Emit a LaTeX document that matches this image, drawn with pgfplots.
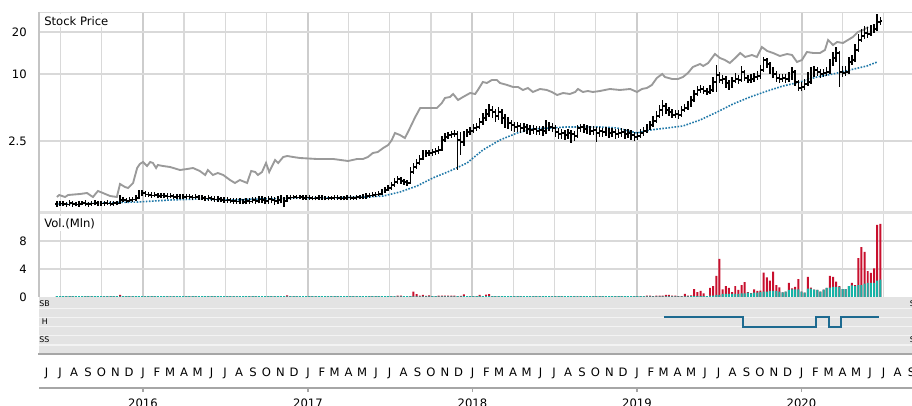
\documentclass[border=0pt]{standalone}
\usepackage{fontspec}
\setmainfont{DejaVu Sans}
\usepackage{pgfplots}
\usepackage{pgfplotstable}
\pgfplotsset{compat=1.18}

\definecolor{gridc}{HTML}{D9D9D9}
\definecolor{gridy}{HTML}{CDCDCD}
\definecolor{bordc}{HTML}{C4C4C4}
\definecolor{sepc}{HTML}{E0E0E0}
\definecolor{benchc}{HTML}{9A9A9A}
\definecolor{mac}{HTML}{1F78A8}
\definecolor{volred}{HTML}{C8102E}
\definecolor{volteal}{HTML}{17B3A6}
\definecolor{ratbg}{HTML}{E3E3E3}
\definecolor{ratline}{HTML}{F3F3F3}
\definecolor{ratc}{HTML}{1D6A90}
\definecolor{axc}{HTML}{A6A6A6}

\newcommand\lab{\fontsize{8.7}{10}\selectfont}
\newcommand\sml{\fontsize{5.9}{6.7}\selectfont}
\pgfdeclareplotmark{nomark}{}

% weekly bars (price panel units), first week ~ 22 Jun 2015
\pgfplotstableread[row sep=\\]{
o h l c\\
8 11 5 8\\ 8 10.5 6 8.5\\ 8.5 11 5.5 8\\ 8 10 5 7.5\\ 7.5 11.5 6 9\\
9 11 5 8\\ 8 10 5.5 7.5\\ 7.5 10.5 5 8\\ 8 11 6.5 9\\ 9 11.5 5.5 8\\
8 10 5 8\\ 8 11 6 8.5\\ 8.5 11.5 6.5 9\\ 9 11 5.5 8\\ 8 10.5 6 8.5\\
8.5 11 6 9\\ 9 11.5 6.5 8.5\\ 8.5 10.5 5.5 8\\ 8 11 6 9\\ 9 11 6.5 8.5\\
8.5 17 8 12\\ 12 14.5 9.5 12\\ 12 14 9 11\\ 11 14.5 9.5 12\\ 12 15 10 12.5\\
12.5 16.5 11 14\\ 14 22 13 18\\ 18 22 16 19\\ 19 21 15 17.5\\ 17.5 20 14.5 17\\
17 19.5 14 16.5\\ 16.5 19.5 14.5 17\\ 17 19 13.5 16\\ 16 19 14 16.5\\ 16.5 18.5 13.5 16\\
16 18.5 13 15.5\\ 15.5 18.5 13.5 16\\ 16 18 13 15\\ 15 18 13 15.5\\ 15.5 17.5 12.5 15\\
15 17.5 12.5 15\\ 15 18 13 15.5\\ 15.5 17.5 12.5 15\\ 15 17 12 14.5\\ 14.5 17.5 12.5 15\\
15 17 12 14.5\\ 14.5 17 11.5 14\\ 14 16 11 13.5\\ 13.5 16.5 11 14\\ 14 16 10.5 13\\
13 15.5 10 12.5\\ 12.5 15.5 10 13\\ 13 15 9.5 12\\ 12 14.5 9 11.5\\ 11.5 14.5 9 12\\
12 14 8.5 11\\ 11 13.5 8 11\\ 11 13.5 8 10.5\\ 10.5 13.5 8 11\\ 11 13 7.5 10\\
10 13.5 7.5 11\\ 11 13.5 8 10.5\\ 10.5 15 8.5 12\\ 12 14.5 8 11\\ 11 16 8.5 12.5\\
12.5 15.5 9 12\\ 12 15 7.5 11\\ 11 16 8 13\\ 13 16 8.5 12\\ 12 15 7 11\\
11 15.5 8 12\\ 12 16.5 8.5 13\\ 13 15 5 11\\ 11 16.5 10 14\\ 14 17 12 14.5\\
14.5 17 12.5 15\\ 15 17 12.5 14.5\\ 14.5 17 12.5 15\\ 15 16.5 12 14\\ 14 16.5 12 14.5\\
14.5 16.5 12 14\\ 14 16 11.5 13.5\\ 13.5 16 11.5 14\\ 14 16.5 12 14.5\\ 14.5 16.5 12 14\\
14 16 11.5 13.5\\ 13.5 16 11.5 14\\ 14 16 12 14\\ 14 16.5 12 14.5\\ 14.5 16.5 12 14\\
14 16 11.5 13.5\\ 13.5 16 11.5 14\\ 14 16.5 12 14.5\\ 14.5 16.5 12 14\\ 14 16 12 14\\
14 17 12 15\\ 15 17 12.5 14.5\\ 14.5 17.5 12.5 15\\ 15 18.5 13 16\\ 16 19 14 16.5\\
16.5 19.5 14.5 17\\ 17 20 15 17.5\\ 17.5 21 15.5 18\\ 18 23 17 20\\ 20 25 19 22\\
22 27 21 24\\ 24 30 22 27\\ 27 34 25 30\\ 30 36 28 33\\ 33 35 28 31\\
31 33 27 30\\ 30 32 26 29\\ 29 45 28 40\\ 40 49 38 45\\ 45 53 43 49\\
49 57 47 53\\ 53 62 52 58\\ 58 62 55 59\\ 59 62 56 59\\ 59 63 56 60\\
60 64 57 61\\ 61 66 58 62\\ 62 76 61 72\\ 72 79 70 75\\ 75 80 73 77\\
77 81 74 78\\ 78 82 75 78\\ 78 81 42 72\\ 72 80 57 70\\ 70 81 66 77\\
77 83 75 80\\ 80 85 77 81\\ 81 88 79 84\\ 84 89 81 85\\ 85 94 83 90\\
90 99 87 94\\ 94 103 91 98\\ 98 108 95 102\\ 102 106 94 100\\ 100 103 90 96\\
96 105 92 100\\ 100 103 88 94\\ 94 98 84 92\\ 92 95 83 89\\ 89 92 81 87\\
87 90 80 85\\ 85 90 80 86\\ 86 89 79 84\\ 84 89 80 85\\ 85 88 78 83\\
83 87 77 82\\ 82 87 78 83\\ 83 86 77 81\\ 81 86 77 82\\ 82 86 76 81\\
81 92 78 87\\ 87 90 81 85\\ 85 89 80 84\\ 84 87 75 80\\ 80 84 73 78\\
78 83 73 79\\ 79 82 72 77\\ 77 83 73 79\\ 79 82 69 78\\ 78 81 71 76\\
76 87 74 84\\ 84 88 80 85\\ 85 88 79 83\\ 83 87 78 82\\ 82 86 77 81\\
81 86 77 82\\ 82 85 70 79\\ 79 85 75 81\\ 81 84 75 80\\ 80 85 76 81\\
81 84 74 79\\ 79 84 75 80\\ 80 83 73 78\\ 78 83 74 79\\ 79 84 75 80\\
80 83 73 78\\ 78 83 74 79\\ 79 82 72 77\\ 77 80 71 75\\ 75 80 72 76\\
76 83 74 79\\ 79 85 76 81\\ 81 88 79 84\\ 84 91 82 87\\ 87 96 85 91\\
91 101 89 96\\ 96 107 94 102\\ 102 112 96 106\\ 106 109 98 102\\ 102 105 96 100\\
100 103 94 97\\ 97 102 94 98\\ 98 102 93 97\\ 97 106 95 102\\ 102 108 100 104\\
104 111 102 107\\ 107 116 105 112\\ 112 122 110 118\\ 118 126 116 122\\ 122 127 119 123\\
123 126 118 121\\ 121 124 117 120\\ 120 127 118 122\\ 122 135 120 130\\ 130 147 120 137\\
137 140 129 132\\ 132 137 128 133\\ 133 136 124 129\\ 129 132 122 126\\ 126 135 124 131\\
131 139 129 133\\ 133 137 128 132\\ 132 146 130 140\\ 140 142 131 134\\ 134 137 129 132\\
132 138 129 133\\ 133 139 130 135\\ 135 141 132 136\\ 136 147 133 142\\ 142 155 140 152\\
152 154 144 148\\ 148 150 138 142\\ 142 145 134 138\\ 138 141 130 134\\ 134 138 129 133\\
133 138 130 134\\ 134 138 129 133\\ 133 140 130 135\\ 135 145 132 140\\ 140 142 126 130\\
130 132 121 124\\ 124 130 121 125\\ 125 133 122 128\\ 128 140 126 130\\ 130 145 128 139\\
139 146 135 142\\ 142 145 136 140\\ 140 143 134 138\\ 138 143 135 139\\ 139 145 136 140\\
140 153 138 148\\ 148 160 146 154\\ 154 165 150 159\\ 159 161 125 140\\ 140 146 135 139\\
139 146 136 140\\ 140 155 138 150\\ 150 157 147 152\\ 152 168 150 162\\ 162 178 160 172\\
172 183 170 176\\ 176 186 173 179\\ 179 185 174 178\\ 178 187 176 182\\ 182 188 179 183\\
183 198 181 190\\ 190 195 187 191\\
}\ohlc

% weekly volume, millions: total and teal part
\pgfplotstableread[row sep=\\]{
t v\\
0.12 0.12\\ 0.12 0.12\\ 0.12 0.12\\ 0.12 0.12\\ 0.12 0.12\\ 0.12 0.12\\ 0.12 0.12\\ 0.12 0.12\\ 0.12 0.12\\ 0.12 0.12\\
0.12 0.12\\ 0.12 0.12\\ 0.12 0.12\\ 0.12 0.12\\ 0.12 0.12\\ 0.12 0.12\\ 0.12 0.12\\ 0.12 0.12\\ 0.12 0.12\\ 0.12 0.12\\
0.30 0.08\\ 0.12 0.12\\ 0.12 0.12\\ 0.12 0.12\\ 0.12 0.12\\ 0.12 0.12\\ 0.12 0.12\\ 0.12 0.12\\ 0.12 0.12\\ 0.12 0.12\\
0.12 0.12\\ 0.12 0.12\\ 0.12 0.12\\ 0.12 0.12\\ 0.12 0.12\\ 0.12 0.12\\ 0.12 0.12\\ 0.12 0.12\\ 0.12 0.12\\ 0.12 0.12\\
0.12 0.12\\ 0.12 0.12\\ 0.12 0.12\\ 0.12 0.12\\ 0.12 0.12\\ 0.12 0.12\\ 0.12 0.12\\ 0.12 0.12\\ 0.12 0.12\\ 0.12 0.12\\
0.12 0.12\\ 0.12 0.12\\ 0.12 0.12\\ 0.12 0.12\\ 0.12 0.12\\ 0.12 0.12\\ 0.12 0.12\\ 0.12 0.12\\ 0.12 0.12\\ 0.12 0.12\\
0.12 0.12\\ 0.12 0.12\\ 0.12 0.12\\ 0.12 0.12\\ 0.12 0.12\\ 0.12 0.12\\ 0.12 0.12\\ 0.12 0.12\\ 0.12 0.12\\ 0.12 0.12\\
0.12 0.12\\ 0.12 0.12\\ 0.12 0.12\\ 0.22 0.08\\ 0.12 0.12\\ 0.12 0.12\\ 0.12 0.12\\ 0.12 0.12\\ 0.12 0.12\\ 0.12 0.12\\
0.12 0.12\\ 0.12 0.12\\ 0.12 0.12\\ 0.12 0.12\\ 0.12 0.12\\ 0.12 0.12\\ 0.12 0.12\\ 0.12 0.12\\ 0.12 0.12\\ 0.12 0.12\\
0.12 0.12\\ 0.12 0.12\\ 0.12 0.12\\ 0.12 0.12\\ 0.12 0.12\\ 0.12 0.12\\ 0.12 0.12\\ 0.12 0.12\\ 0.12 0.12\\ 0.12 0.12\\
0.12 0.12\\ 0.12 0.12\\ 0.12 0.12\\ 0.12 0.12\\ 0.12 0.12\\ 0.12 0.12\\ 0.12 0.12\\ 0.12 0.12\\ 0.18 0.08\\ 0.18 0.08\\
0.12 0.12\\ 0.12 0.12\\ 0.12 0.12\\ 0.76 0.08\\ 0.40 0.08\\ 0.18 0.08\\ 0.30 0.08\\ 0.15 0.08\\ 0.22 0.08\\ 0.12 0.12\\
0.12 0.12\\ 0.18 0.08\\ 0.18 0.08\\ 0.20 0.08\\ 0.18 0.08\\ 0.20 0.08\\ 0.18 0.08\\ 0.12 0.12\\ 0.15 0.08\\ 0.38 0.14\\
0.14 0.14\\ 0.12 0.12\\ 0.12 0.12\\ 0.14 0.14\\ 0.30 0.14\\ 0.14 0.14\\ 0.35 0.14\\ 0.40 0.14\\ 0.14 0.14\\ 0.14 0.14\\
0.12 0.12\\ 0.14 0.14\\ 0.14 0.14\\ 0.12 0.12\\ 0.12 0.12\\ 0.12 0.12\\ 0.12 0.12\\ 0.12 0.12\\ 0.12 0.12\\ 0.12 0.12\\
0.12 0.12\\ 0.14 0.14\\ 0.12 0.12\\ 0.12 0.12\\ 0.14 0.14\\ 0.12 0.12\\ 0.12 0.12\\ 0.12 0.12\\ 0.12 0.12\\ 0.14 0.14\\
0.12 0.12\\ 0.14 0.14\\ 0.14 0.14\\ 0.14 0.14\\ 0.14 0.14\\ 0.14 0.14\\ 0.14 0.14\\ 0.12 0.12\\ 0.12 0.12\\ 0.12 0.12\\
0.12 0.12\\ 0.12 0.12\\ 0.14 0.14\\ 0.12 0.12\\ 0.12 0.12\\ 0.12 0.12\\ 0.12 0.12\\ 0.12 0.12\\ 0.12 0.12\\ 0.12 0.12\\
0.12 0.12\\ 0.12 0.12\\ 0.12 0.12\\ 0.12 0.12\\ 0.12 0.12\\ 0.12 0.12\\ 0.12 0.12\\ 0.18 0.08\\ 0.18 0.08\\ 0.12 0.08\\
0.18 0.08\\ 0.18 0.08\\ 0.18 0.08\\ 0.29 0.08\\ 0.29 0.08\\ 0.18 0.08\\ 0.18 0.08\\ 0.14 0.08\\ 0.12 0.08\\ 0.43 0.08\\
0.18 0.08\\ 0.22 0.14\\ 1.14 0.14\\ 0.71 0.14\\ 0.86 0.14\\ 0.52 0.14\\ 0.14 0.14\\ 1.29 0.19\\ 1.57 0.19\\ 3.00 0.29\\
5.43 0.29\\ 1.09 0.43\\ 1.57 0.43\\ 1.29 0.43\\ 0.71 0.43\\ 1.57 0.43\\ 1.00 0.43\\ 1.71 0.52\\ 2.14 0.52\\ 0.71 0.62\\
0.57 0.52\\ 1.09 0.62\\ 0.86 0.62\\ 0.90 0.70\\ 3.48 0.76\\ 2.81 0.76\\ 2.33 0.86\\ 3.62 0.86\\ 1.71 0.86\\ 1.38 0.76\\
0.67 0.67\\ 0.76 0.76\\ 2.00 1.00\\ 1.24 1.09\\ 1.43 1.09\\ 2.57 1.09\\ 0.76 0.76\\ 0.62 0.62\\ 2.86 1.19\\ 1.33 1.19\\
1.05 1.05\\ 1.00 1.00\\ 0.76 0.76\\ 1.05 1.05\\ 1.29 1.29\\ 3.00 1.33\\ 2.86 1.43\\ 2.19 1.43\\ 1.57 1.43\\ 1.14 1.14\\
1.14 1.14\\ 1.57 1.57\\ 2.00 1.67\\ 1.71 1.57\\ 5.57 1.71\\ 7.14 1.71\\ 6.43 1.90\\ 3.71 2.00\\ 3.43 2.00\\ 4.10 2.00\\
10.29 2.33\\ 10.43 2.48\\
}\vol

\pgfplotsset{
  panel/.style={
    anchor=south west, scale only axis, width=654.75pt,
    xmin=-230.75, xmax=1706.2,
    axis line style={draw=none}, tick style={draw=none}, major tick length=0pt,
  },
  vgrid/.style={
    xtick={0,366,731,1096,1461}, xticklabels={},
    minor xtick={-184,-92,91,182,274,456,547,639,821,912,1004,1186,1277,1369,1552,1643},
    xmajorgrids, xminorgrids,
    major x grid style={draw=gridy, line width=1.5pt},
    minor x grid style={draw=gridc, line width=0.8pt},
  },
}

\begin{document}
\begin{tikzpicture}

% ---- price panel
\begin{axis}[panel, vgrid, at={(29.25pt,145.5pt)}, height=150pt,
  ymin=0, ymax=200,
  ytick={71,138,180}, yticklabels={2.5,10,20}, ymajorgrids,
  major y grid style={draw=gridc, line width=1pt},
  yticklabel style={font=\lab, anchor=east, inner sep=0pt, xshift=-9pt},
]
\addplot[benchc, line width=1.4pt] coordinates {
(-191,15) (-186,17) (-173,15) (-166,17) (-140,18) (-124,19) (-118,17) (-111,15) (-100,21) (-89,19)
(-73,16) (-58,15) (-51,28) (-40,25) (-33,24) (-22,29) (-13,44) (-7,48) (0,50) (9,46) (16,50) (22,49)
(29,44) (33,47) (44,46) (60,45) (82,42) (98,43) (111,44) (126,41) (138,37) (144,42) (155,37) (166,39)
(178,37) (193,32) (204,29) (215,32) (231,29) (240,41) (249,40) (255,37) (264,40) (273,49) (280,40)
(293,52) (300,49) (311,55) (320,56) (333,55) (348,54) (386,53) (422,53) (455,51) (475,53) (488,53)
(499,55) (510,59) (521,60) (533,64) (544,67) (552,72) (559,79) (570,77) (581,74) (588,80) (604,95)
(615,104) (630,104) (652,104) (663,109) (670,114) (681,115) (688,118) (699,112) (710,115) (726,119)
(737,118) (743,122) (754,130) (763,129) (774,132) (785,132) (792,129) (808,127) (821,125) (832,125)
(843,122) (854,124) (865,120) (881,123) (896,122) (907,120) (919,117) (932,119) (947,118) (959,120)
(965,123) (976,120) (987,121) (998,120) (1014,121) (1036,123) (1058,122) (1081,123) (1096,120)
(1107,123) (1118,124) (1129,127) (1140,134) (1152,138) (1158,135) (1174,133) (1187,133) (1198,135)
(1209,139) (1220,145) (1236,148) (1243,146) (1254,149) (1269,158) (1280,154) (1291,152) (1302,149)
(1314,154) (1325,159) (1336,155) (1351,157) (1362,155) (1373,165) (1385,161) (1398,159) (1413,156)
(1429,158) (1440,157) (1451,150) (1462,152) (1473,160) (1487,159) (1502,159) (1513,162) (1520,172)
(1531,167) (1540,170) (1553,169) (1564,172) (1575,175) (1586,180) (1598,182) (1609,185)
};
\addplot[mac, line width=1.2pt, dash pattern=on 1.2pt off 1.1pt] coordinates {
(-191,8) (-95,9) (-11,10) (60,12) (126,13) (193,12) (260,13) (348,14) (415,14) (497,15) (533,16)
(570,20) (608,26) (643,34) (681,41) (719,49) (754,62) (792,72) (830,79) (865,83) (903,84) (941,85)
(976,85) (1014,85) (1052,84) (1096,79) (1125,82) (1163,84) (1198,86) (1236,92) (1274,100) (1309,108)
(1347,115) (1385,121) (1420,126) (1458,130) (1495,135) (1531,138) (1568,142) (1606,146) (1629,150)
};
\addplot[scatter, only marks, mark=nomark,
  visualization depends on={\thisrow{h}-\thisrow{c} \as \dH},
  visualization depends on={\thisrow{l}-\thisrow{c} \as \dL},
  visualization depends on={\thisrow{o}-\thisrow{c} \as \dO},
  scatter/@pre marker code/.code={%
    \draw[black, line width=1.1pt] (axis direction cs:0,\dL) -- (axis direction cs:0,\dH);
    \draw[black, line width=1pt] (axis direction cs:-3.4,\dO) -- (axis direction cs:0,\dO);
    \draw[black, line width=1pt] (axis direction cs:0,0) -- (axis direction cs:3.4,0);
  },
  scatter/@post marker code/.code={},
] table[x expr={-191+7*\coordindex}, y=c] {\ohlc};
\end{axis}

% ---- volume panel
\begin{axis}[panel, vgrid, at={(29.25pt,81.75pt)}, height=63pt,
  ymin=0, ymax=12,
  ytick={4,8}, yticklabels={4,8}, ymajorgrids,
  extra y ticks={0}, extra y tick labels={0}, extra y tick style={grid=none},
  major y grid style={draw=gridc, line width=1pt},
  yticklabel style={font=\lab, anchor=east, inner sep=0pt, xshift=-9pt},
]
\addplot[ybar, bar width=4.4, bar shift=0pt, fill=volred, draw=none]
  table[x expr={-191+7*\coordindex}, y=t] {\vol};
\addplot[ybar, bar width=4.4, bar shift=0pt, fill=volteal, draw=none]
  table[x expr={-191+7*\coordindex}, y=v] {\vol};
\end{axis}

% ---- rating panel with month labels
\begin{axis}[panel, at={(29.25pt,38.25pt)}, height=43.5pt,
  ymin=0, ymax=58,
  axis background/.style={fill=ratbg},
  ytick={10,19.5,28.3,37.7,46.7}, yticklabels={}, ymajorgrids,
  major y grid style={draw=ratline, line width=0.9pt},
  xtick={-214,-184,-153,-122,-92,-61,-31,
    0,31,60,91,121,152,182,213,244,274,305,335,
    366,397,425,456,486,517,547,578,609,639,670,700,
    731,762,790,821,851,882,912,943,974,1004,1035,1065,
    1096,1127,1155,1186,1216,1247,1277,1308,1339,1369,1400,1430,
    1461,1492,1521,1552,1582,1613,1643,1674,1705},
  xticklabels={J,J,A,S,O,N,D,J,F,M,A,M,J,J,A,S,O,N,D,J,F,M,A,M,J,J,A,S,O,N,D,J,F,M,A,M,J,J,A,S,O,N,D,J,F,M,A,M,J,J,A,S,O,N,D,J,F,M,A,M,J,J,A,S},
  xticklabel style={font=\lab, anchor=base, inner sep=0pt, yshift=-16.3pt},
]
\addplot[const plot, ratc, line width=1.5pt] coordinates {
(1156,37.7) (1331,28.3) (1493,37.7) (1522,28.3) (1549,37.7) (1633,37.7)
};
\end{axis}

% ---- year axis
\begin{axis}[anchor=south west, scale only axis, width=654.75pt, height=5pt,
  at={(29.25pt,13.5pt)},
  xmin=-230.75, xmax=1706.2, ymin=0, ymax=1,
  axis x line*=bottom, axis y line=none,
  x axis line style={draw=axc, line width=1.5pt, -},
  xtick={0,366,731,1096,1461}, xticklabels={2016,2017,2018,2019,2020},
  tick align=outside, major tick length=3pt,
  xtick style={draw=axc, line width=1pt},
  xticklabel style={font=\lab, anchor=base, inner sep=0pt, yshift=-11.25pt},
]
\end{axis}

% ---- frame lines and panel titles (pixel frame)
\begin{scope}[x=0.75pt, y=-0.75pt, shift={(0pt,304.5pt)}]
  \draw[gridc, line width=1pt] (39,12.5) -- (912,12.5);
  \draw[sepc, line width=2.2pt] (39,212.5) -- (912,212.5);
  \draw[bordc, line width=1.9pt] (39,11.8) -- (39,297);
  \draw[axc, line width=1.5pt] (38,354.5) -- (912,354.5);
  \node[anchor=base west, inner sep=1.5pt, fill=white, font=\lab] at (42,25.3) {Stock Price};
  \node[anchor=base west, inner sep=1.5pt, fill=white, font=\lab] at (42,227.3) {Vol.(Mln)};
  \node[anchor=base west, inner sep=0pt, font=\sml] at (39,306.7) {SB};
  \node[anchor=base west, inner sep=0pt, font=\sml] at (41.7,325) {H};
  \node[anchor=base west, inner sep=0pt, font=\sml] at (39,342.7) {SS};
  \node[anchor=base west, inner sep=0pt, font=\sml] at (909.5,306.7) {SB};
  \node[anchor=base west, inner sep=0pt, font=\sml] at (909.5,342.7) {SS};
\end{scope}

\pgfresetboundingbox
\useasboundingbox (0pt,0pt) rectangle (684pt,304.5pt);
\end{tikzpicture}
\end{document}
